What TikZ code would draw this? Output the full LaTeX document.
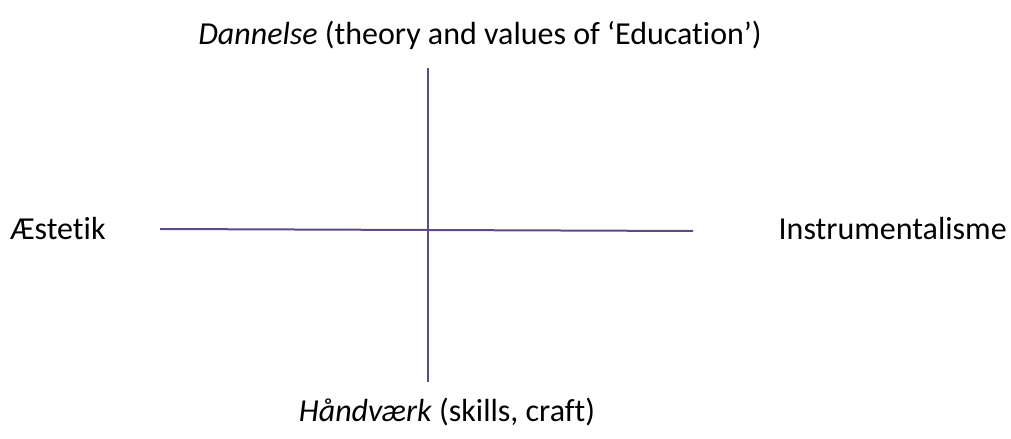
\documentclass[tikz,border=0pt]{standalone}
\usepackage{fontspec}
\setmainfont{Carlito}[Ligatures=NoCommon]
\usepackage{tikz}
\usetikzlibrary{positioning}
\definecolor{axisline}{HTML}{5E4A8A}
\tikzset{
  axislbl/.style = {font=\fontsize{24}{28}\selectfont, inner sep=0pt, text=black},
  axis/.style    = {line width=1.5pt, draw=axisline},
}
\begin{document}
\begin{tikzpicture}[x=0.75pt, y=0.75pt]
        \useasboundingbox (0,0) rectangle (1011,439);
        \coordinate (top)   at (428,371);
        \coordinate (bot)   at (428,57);
        \coordinate (left)  at (160,210);
        \coordinate (right) at (693,208);
        \node[axislbl] (dan) at (480,404) {\textit{Dannelse} (theory and values of ‘Education’)};
        \node[axislbl] (hand) at (447,27) {\textit{Håndværk} (skills, craft)};
        \node[axislbl, anchor=west] (aes) at (10,210) {Æstetik};
        \node[axislbl, anchor=east] (ins) at (1007,210) {Instrumentalisme};
        \draw[axis] (top) -- (bot);
        \draw[axis] (left) -- (right);
    \end{tikzpicture}
\end{document}
